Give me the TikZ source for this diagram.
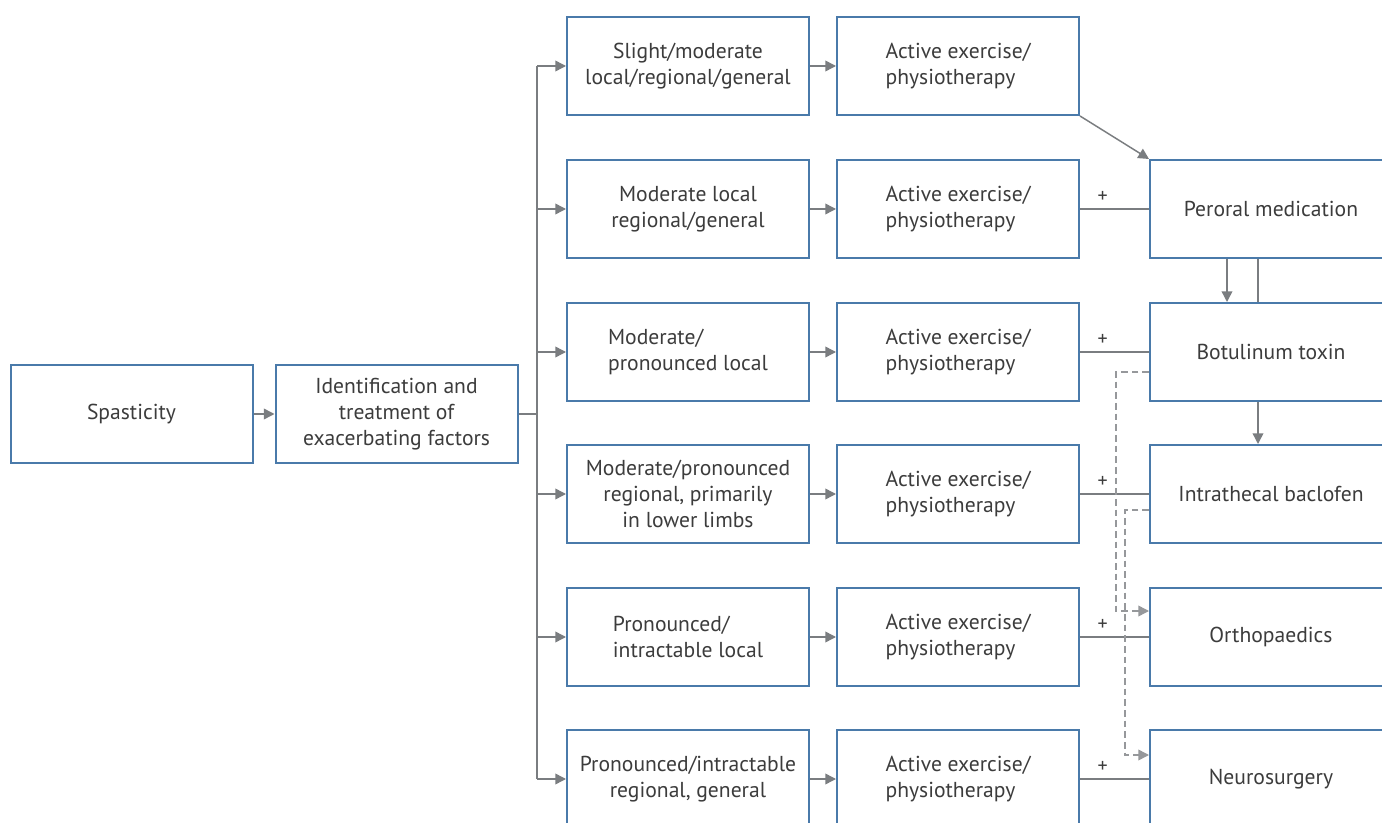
\documentclass[tikz,border=0pt]{standalone}
\usepackage{fontspec}
\setmainfont{PT Sans}
\usetikzlibrary{arrows.meta,calc}
\definecolor{boxblue}{RGB}{74,122,170}
\definecolor{linegray}{RGB}{122,125,128}
\definecolor{dashgray}{RGB}{150,152,155}
\definecolor{txt}{RGB}{60,60,60}
\tikzset{
  box/.style={draw=boxblue, line width=1.5pt, minimum width=181.5pt, minimum height=73.5pt,
    inner sep=0pt, align=center, text=txt, font=\fontsize{16.2}{19.5}\selectfont},
  lbox/.style={box, align=left},
  arr/.style={draw=linegray, line width=1.1pt, -{Triangle[length=8pt,width=8pt]}},
  ln/.style={draw=linegray, line width=1.1pt},
  dsh/.style={draw=dashgray, line width=1.1pt, dash pattern=on 5pt off 3pt, -{Triangle[length=8pt,width=8pt]}},
  plus/.style={text=txt, font=\fontsize{15}{15}\selectfont, inner sep=0pt}
}
\begin{document}
\begin{tikzpicture}[x=0.75pt,y=-0.75pt]
\clip (0,0) rectangle (1382,823);
\fill[white] (0,0) rectangle (1382,823);
\node[box] (sp) at (131.5,414) {Spasticity};
\node[box] (id) at (396.5,414) {Identification and\\treatment of\\exacerbating factors};
\node[box] (a1) at (688,66) {Slight/moderate\\local/regional/general};
\node[box] (a2) at (688,209) {Moderate local\\regional/general};
\node[lbox] (a3) at (688,352) {Moderate/\\pronounced local};
\node[box] (a4) at (688,494) {Moderate/pronounced\\regional, primarily\\in lower limbs};
\node[lbox] (a5) at (688,637) {Pronounced/\\intractable local};
\node[box] (a6) at (688,779) {Pronounced/intractable\\regional, general};
\foreach \i/\y in {1/66,2/209,3/352,4/494,5/637,6/779}{
  \node[lbox] (b\i) at (958,\y) {Active exercise/\\physiotherapy\hspace*{8pt}};
}
\node[box] (per) at (1271,209) {Peroral medication};
\node[box] (bot) at (1271,352) {Botulinum toxin};
\node[box] (itb) at (1271,494) {Intrathecal baclofen};
\node[box] (ort) at (1271,637) {Orthopaedics};
\node[box] (neu) at (1271,779) {Neurosurgery};
% connectors
\draw[arr] (sp) -- (id);
\coordinate (trunk) at (537,414);
\draw[ln] (id.east) -- (trunk);
\draw[ln] (a1.west -| trunk) -- (a6.west -| trunk);
\foreach \i in {1,...,6}{
  \draw[arr] (a\i.west -| trunk) -- (a\i.west);
  \draw[arr] (a\i) -- (b\i);
}
\draw[arr] (b1.south east) -- (per.north west);
\draw[ln] (b2) -- node[plus, above=4pt, pos=0.33]{+} (per);
\draw[ln] (b3) -- node[plus, above=4pt, pos=0.33]{+} (bot);
\draw[ln] (b4) -- node[plus, above=4pt, pos=0.33]{+} (itb);
\draw[ln] (b5) -- node[plus, above=4pt, pos=0.33]{+} (ort);
\draw[ln] (b6) -- node[plus, above=4pt, pos=0.33]{+} (neu);
\draw[arr] ([xshift=-33pt]per.south) -- ([xshift=-33pt]bot.north);
\draw[ln] ([xshift=-9.75pt]per.south) -- ([xshift=-9.75pt]bot.north);
\draw[arr] ([xshift=-9.75pt]bot.south) -- ([xshift=-9.75pt]itb.north);
\draw[dsh] ([yshift=-15pt]bot.west) -- ++(-33,0) |- ([yshift=19.5pt]ort.west);
\draw[dsh] ([yshift=-12pt]itb.west) -- ++(-24,0) |- ([yshift=18pt]neu.west);
\end{tikzpicture}
\end{document}
